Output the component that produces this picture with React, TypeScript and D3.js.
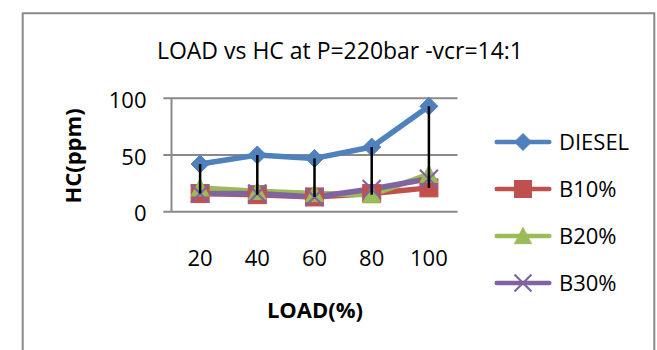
import React from "react";
import * as d3 from "d3";

const categories = ["20", "40", "60", "80", "100"];
const seriesNames = ["DIESEL", "B10%", "B20%", "B30%"];
const diesel = [42, 50, 47, 57, 93];
const b10 = [16, 15, 13, 16, 21];
const b20 = [21, 18, 16, 15, 33];
const b30 = [16, 16, 13, 20, 29];
const yTicks = [0, 50, 100];
const colors = ["#4F81BD", "#C0504D", "#9BBB59", "#8064A2"];
const markers = ["diamond", "square", "triangle", "cross"];
const titleText = "LOAD vs HC at P=220bar -vcr=14:1";
const xTitle = "LOAD(%)";
const yTitle = "HC(ppm)";

const W = 657;
const H = 350;
const FONT = "'Open Sans', 'Liberation Sans', sans-serif";

function Marker({ type, cx, cy, color, size }: { type: string; cx: number; cy: number; color: string; size: number }) {
  const h = size / 2;
  if (type === "diamond") {
    const p = `M${cx},${cy - h}L${cx + h},${cy}L${cx},${cy + h}L${cx - h},${cy}Z`;
    return <path d={p} fill={color} stroke={color} strokeWidth={1} />;
  }
  if (type === "square") {
    return <rect x={cx - h} y={cy - h} width={size} height={size} fill={color} stroke={color} strokeWidth={1} />;
  }
  if (type === "triangle") {
    const p = `M${cx},${cy - h}L${cx + h},${cy + h * 0.9}L${cx - h},${cy + h * 0.9}Z`;
    return <path d={p} fill={color} stroke={color} strokeWidth={1} />;
  }
  const p = `M${cx - h},${cy - h}L${cx + h},${cy + h}M${cx - h},${cy + h}L${cx + h},${cy - h}`;
  return <path d={p} fill="none" stroke={color} strokeWidth={2.2} />;
}

export default function App() {
  const series = [diesel, b10, b20, b30];
  const x = d3.scaleBand<string>().domain(categories).range([171.5, 457.5]);
  const y = d3.scaleLinear().domain([0, 100]).range([211.7, 98.3]);
  const cx = (c: string) => (x(c) as number) + x.bandwidth() / 2;
  const line = d3
    .line<number>()
    .x((_, i) => cx(categories[i]))
    .y((v) => y(v));

  const axisColor = "#8a8a8a";
  const legendY = [142, 189, 236, 283];

  return (
    <svg
      width={W}
      height={H}
      style={{ position: "absolute", left: 0, top: 0, background: "#fff" }}
      fontFamily={FONT}
    >
      <rect x={0} y={0} width={W} height={H} fill="#fff" />
      {/* chart frame */}
      <path d={`M22.7,${H + 5}V13.3H654.3V${H + 5}`} fill="none" stroke={axisColor} strokeWidth={2} />

      {/* title */}
      <text x={340} y={59.3} textAnchor="middle" fontSize={23} fill="#000" textLength={366} lengthAdjust="spacingAndGlyphs">
        {titleText}
      </text>

      {/* gridlines + y ticks */}
      {yTicks.map((t) => (
        <g key={t}>
          <line x1={163.3} x2={457.5} y1={y(t)} y2={y(t)} stroke={axisColor} strokeWidth={2} />
          <text x={146.5} y={y(t) + 9.5} textAnchor="end" fontSize={22} fill="#000">
            {t}
          </text>
        </g>
      ))}
      <line x1={171.5} x2={171.5} y1={y(100)} y2={y(0)} stroke={axisColor} strokeWidth={2} />

      {/* x tick labels */}
      {categories.map((c) => (
        <text key={c} x={cx(c)} y={265.5} textAnchor="middle" fontSize={22} fill="#000">
          {c}
        </text>
      ))}

      {/* axis titles */}
      <text x={315} y={318.3} textAnchor="middle" fontSize={22} fontWeight="bold" fill="#000">
        {xTitle}
      </text>
      <text
        transform={`translate(80.5,156) rotate(-90)`}
        textAnchor="middle"
        fontSize={22}
        fontWeight="bold"
        fill="#000"
      >
        {yTitle}
      </text>

      {/* series lines */}
      {series.map((s, si) => (
        <path
          key={"l" + si}
          d={line(s) || ""}
          fill="none"
          stroke={colors[si]}
          strokeWidth={5.5}
          strokeLinejoin="round"
          strokeLinecap="round"
        />
      ))}
      {/* markers */}
      {series.map((s, si) => (
        <g key={"m" + si}>
          {s.map((v, i) => (
            <Marker key={i} type={markers[si]} cx={cx(categories[i])} cy={y(v)} color={colors[si]} size={18} />
          ))}
        </g>
      ))}

      {/* high-low lines */}
      {categories.map((c, i) => {
        const vals = series.map((s) => s[i]);
        return (
          <line
            key={"hl" + c}
            x1={cx(c)}
            x2={cx(c)}
            y1={y(d3.max(vals) as number)}
            y2={y(d3.min(vals) as number)}
            stroke="#000"
            strokeWidth={2.5}
          />
        );
      })}

      {/* legend */}
      {seriesNames.map((n, si) => (
        <g key={"lg" + si}>
          <line x1={496.7} x2={549.3} y1={legendY[si]} y2={legendY[si]} stroke={colors[si]} strokeWidth={4.5} strokeLinecap="round" />
          <Marker type={markers[si]} cx={523} cy={legendY[si]} color={colors[si]} size={17} />
          <text x={559} y={legendY[si] + 8} fontSize={22} fill="#000">
            {n}
          </text>
        </g>
      ))}
    </svg>
  );
}
